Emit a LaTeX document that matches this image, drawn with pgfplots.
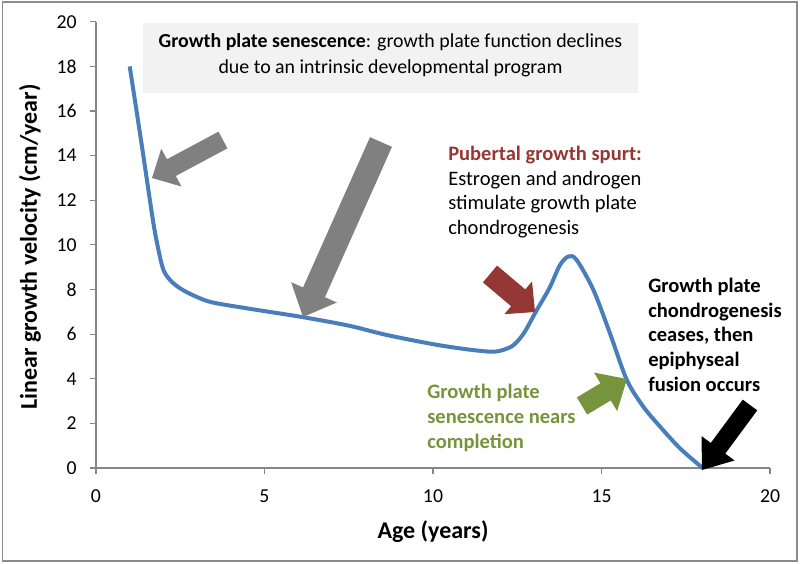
\documentclass[border=0pt]{standalone}
\usepackage{fontspec}
\setmainfont{Carlito}
\usepackage{pgfplots}
\pgfplotsset{compat=1.18}
\usetikzlibrary{calc}
\definecolor{curve}{HTML}{4A7EBB}
\definecolor{axgray}{HTML}{868686}
\definecolor{arrgray}{HTML}{808080}
\definecolor{darkred}{HTML}{953735}
\definecolor{olivegreen}{HTML}{77933C}
\definecolor{boxgray}{HTML}{F2F2F2}
\definecolor{bordergray}{HTML}{8C8C8C}
\newcommand\fsann{\fontsize{15.4}{18}\selectfont}
\newcommand\fsbox{\fontsize{14.9}{18}\selectfont}
\newcommand\fstick{\fontsize{14.8}{17}\selectfont}
\newcommand\fslab{\fontsize{18}{21}\selectfont\bfseries}
% block arrow: colour, tail, tip, half shaft width, half head width, head length
\newcommand\barrow[6]{%
\fill[#1] let \p1=(#2), \p2=(#3), \n1={atan2(\y2-\y1,\x2-\x1)} in
 ($(\p1)+(\n1+90:#4)$) -- ($(\p2)+(\n1+180:#6)+(\n1+90:#4)$) --
 ($(\p2)+(\n1+180:#6)+(\n1+90:#5)$) -- (\p2) --
 ($(\p2)+(\n1+180:#6)+(\n1-90:#5)$) -- ($(\p2)+(\n1+180:#6)+(\n1-90:#4)$) --
 ($(\p1)+(\n1-90:#4)$) -- cycle;}
\begin{document}
\begin{tikzpicture}
\useasboundingbox (-72pt,-72pt) rectangle (528pt,351pt);
\begin{scope}[x=0.75pt,y=-0.75pt,shift={(-72pt,351pt)}]
 \draw[bordergray, line width=1.1pt] (2.5,2) rectangle (797,561);
 \fill[boxgray] (143,23) rectangle (638,93.5);
\end{scope}
\begin{axis}[
  at={(0,0)}, anchor=south west, scale only axis,
  width=505.5pt, height=334.7pt,
  xmin=0, xmax=20, ymin=0, ymax=20,
  axis x line=bottom, axis y line=left,
  axis line style={axgray, line width=0.9pt, -},
  tick style={axgray, line width=0.9pt},
  tick align=outside, major tick length=4.5pt,
  xtick={0,5,10,15,20}, ytick={0,2,4,6,8,10,12,14,16,18,20},
  minor tick num=0,
  /pgf/number format/assume math mode=true,
  tick label style={font=\fstick, text=black},
  x tick label style={yshift=-8pt},
  y tick label style={xshift=-6.5pt},
  xlabel={Age (years)},
  ylabel={Linear growth velocity (cm/year)},
  every axis x label/.style={at={(axis description cs:0.5,-0.143)}, anchor=center, font=\fslab},
  every axis y label/.style={at={(axis description cs:-0.098,0.495)}, anchor=center, rotate=90, font=\fslab},
  clip=false,
]
\addplot[curve, line width=3pt, smooth, tension=0.5, line join=round] coordinates {
 (1,18) (1.35,14.55) (1.69,11.1) (1.85,9.8) (2.0,8.88) (2.2,8.42) (2.45,8.1)
 (2.8,7.8) (3.4,7.44) (4.5,7.15) (6.1,6.77) (7.5,6.38) (8.6,5.97) (10,5.55)
 (11,5.32) (11.75,5.21) (12.1,5.3) (12.4,5.52) (12.7,6.05) (13.05,7.0)
 (13.45,8.05) (13.77,9.1) (14.02,9.48) (14.26,9.33) (14.76,7.98)
 (15.25,6.04) (15.75,3.95) (16.24,2.75) (16.74,1.85) (17.33,0.88) (18,0)
};
\end{axis}
\begin{scope}[x=0.75pt,y=-0.75pt,shift={(-72pt,351pt)}]
 \coordinate (a1s) at (223,140); \coordinate (a1e) at (152,178);
 \coordinate (a2s) at (381,142); \coordinate (a2e) at (303,317);
 \coordinate (a3s) at (490,274); \coordinate (a3e) at (535,312);
 \coordinate (a4s) at (582,406); \coordinate (a4e) at (627,379);
 \coordinate (a5s) at (750,405); \coordinate (a5e) at (702,470);
 \node[anchor=base, inner sep=0, font=\fsbox] at (390.5,47.7) {\textbf{Growth plate senescence}: growth plate function declines};
 \node[anchor=base, inner sep=0, font=\fsbox] at (390.5,73.3) {due to an intrinsic developmental program};
 \node[anchor=base west, inner sep=0, font=\fsann\bfseries, text=darkred] at (448,161) {Pubertal growth spurt:};
 \node[anchor=base west, inner sep=0, font=\fsann] at (448,186) {Estrogen and androgen};
 \node[anchor=base west, inner sep=0, font=\fsann] at (448,210) {stimulate growth plate};
 \node[anchor=base west, inner sep=0, font=\fsann] at (448,235) {chondrogenesis};
 \node[anchor=base west, inner sep=0, font=\fsann\bfseries] at (648,293) {Growth plate};
 \node[anchor=base west, inner sep=0, font=\fsann\bfseries] at (648,317.5) {chondrogenesis};
 \node[anchor=base west, inner sep=0, font=\fsann\bfseries] at (648,342) {ceases, then};
 \node[anchor=base west, inner sep=0, font=\fsann\bfseries] at (648,367) {epiphyseal};
 \node[anchor=base west, inner sep=0, font=\fsann\bfseries] at (648,392) {fusion occurs};
 \node[anchor=base west, inner sep=0, font=\fsann\bfseries, text=olivegreen] at (427,399) {Growth plate};
 \node[anchor=base west, inner sep=0, font=\fsann\bfseries, text=olivegreen] at (427,424) {senescence nears};
 \node[anchor=base west, inner sep=0, font=\fsann\bfseries, text=olivegreen] at (427,448.5) {completion};
\end{scope}
\barrow{arrgray}{a1s}{a1e}{7.1pt}{16.1pt}{16.5pt}
\barrow{arrgray}{a2s}{a2e}{9pt}{18.75pt}{20.25pt}
\barrow{darkred}{a3s}{a3e}{8.25pt}{16.1pt}{16.5pt}
\barrow{olivegreen}{a4s}{a4e}{7.5pt}{16.9pt}{18.75pt}
\barrow{black}{a5s}{a5e}{6.75pt}{15.4pt}{20.25pt}
\end{tikzpicture}
\end{document}
